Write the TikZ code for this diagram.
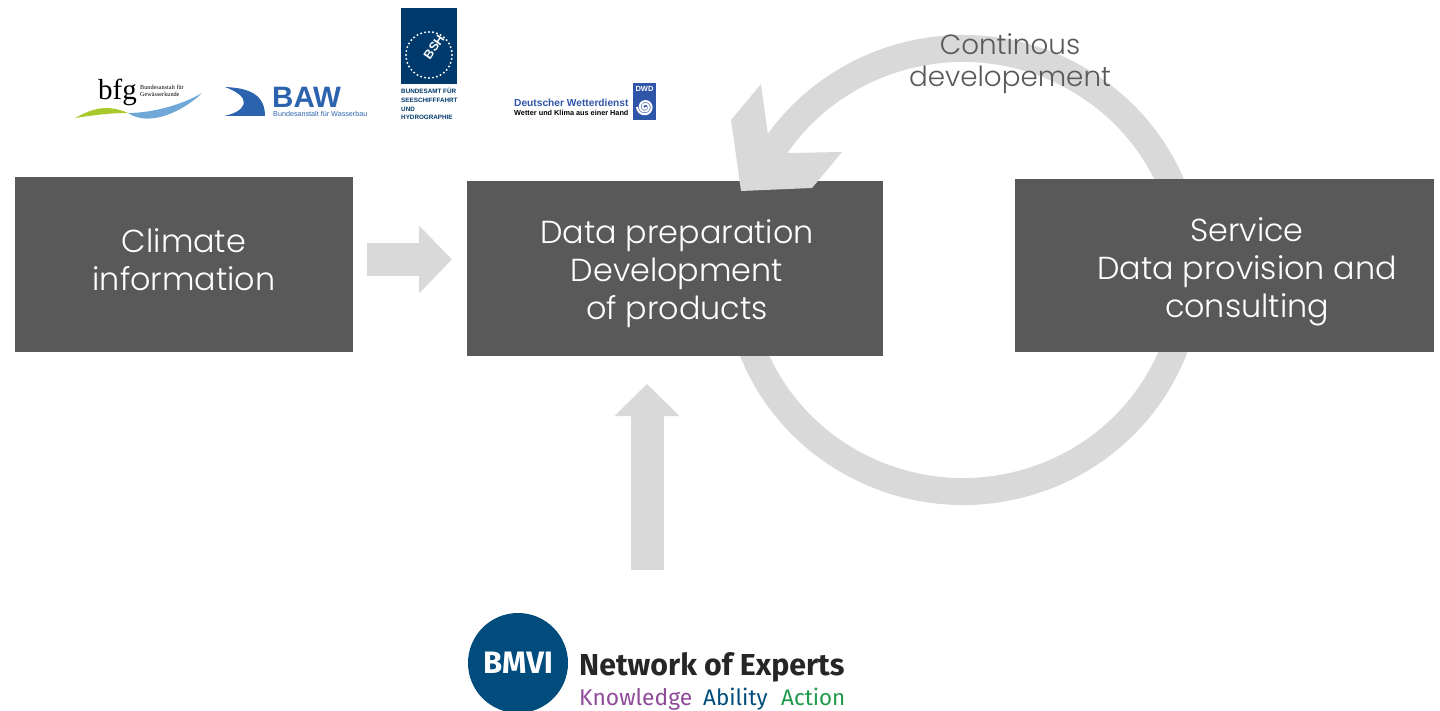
\documentclass[tikz,border=0pt]{standalone}
\usepackage{fontspec}
\setmainfont{Poppins Light}
\newfontfamily\logofont{Fira Sans}
\newfontfamily\liberfont{Liberation Sans}
\newfontfamily\seriffont{Liberation Serif}
\usetikzlibrary{arrows.meta}
\definecolor{boxgrey}{HTML}{595959}
\definecolor{arrowgrey}{HTML}{D9D9D9}
\definecolor{bshblue}{HTML}{003A6C}
\definecolor{bawblue}{HTML}{2B63AE}
\definecolor{dwdblue}{HTML}{2F55A8}
\definecolor{bmviblue}{HTML}{004C7C}
\definecolor{bfggreen}{HTML}{A9C92A}
\definecolor{bfgblue}{HTML}{6FA8D6}
\definecolor{knowpurple}{HTML}{8F4A9A}
\definecolor{actgreen}{HTML}{1F9A4A}
\tikzset{
    stagebox/.style={fill=boxgrey, inner sep=0pt},
    stagetext/.style={text=white, align=center, inner sep=0pt, font=\fontsize{31.8}{38.3}\selectfont},
    fatarrow/.style={draw=arrowgrey, line width=33pt, -{Triangle[length=33pt,width=66pt,fill=arrowgrey]}},
    logotext/.style={inner sep=0pt, anchor=base west, align=left}
}
\begin{document}
\begin{tikzpicture}[x=1pt,y=-1pt]
    \useasboundingbox (0,0) rectangle (1440,711);

    % Loop behind the boxes
    \coordinate (loopcentre) at (963,270);
    \draw[arrowgrey, line width=27pt] (loopcentre) ++(165:226 and 221.5) arc[start angle=165, end angle=-146, x radius=226, y radius=221.5];

    % Stages
    \node[stagebox, minimum width=338pt, minimum height=175pt] (climate) at (184,264.5) {};
    \node[stagebox, minimum width=416pt, minimum height=175pt] (prep) at (675,268.5) {};
    \node[stagebox, minimum width=419pt, minimum height=173pt] (service) at (1224.5,265.5) {};
    \node[stagetext] (climatetext) at ([yshift=5pt]climate.center) {Climate\\information};
    \node[stagetext] (preptext) at ([xshift=2pt,yshift=-5pt]prep.center) {Data preparation\\Development\\of products};
    \node[stagetext] (servicetext) at ([xshift=22.5pt,yshift=-6.5pt]service.center) {Service\\Data provision and\\consulting};

    % Head of the loop
    \fill[arrowgrey] (761,84) -- (731,120) -- (741,191) -- (812,188) -- (842,152) -- (788,153) -- (768,135) -- cycle;

    % Block arrows
    \coordinate (climateout) at (367,259.5);
    \coordinate (prepin) at (452,259.5);
    \draw[fatarrow] (climateout) -- (prepin);
    \coordinate (expertsout) at (647,570);
    \coordinate (prepbelow) at (647,384);
    \draw[fatarrow, -{Triangle[length=32pt,width=63pt,fill=arrowgrey]}] (expertsout) -- (prepbelow);

    \node[text=boxgrey, align=center, inner sep=0pt, font=\fontsize{27.8}{32}\selectfont] (loopname) at (1010,64) {Continous\\developement};

    % bfg
    \fill[bfggreen] (75,118) .. controls (90,110) and (105,103) .. (128,113) .. controls (110,113) and (95,115) .. (75,118) -- cycle;
    \fill[bfgblue] (128,113) .. controls (150,113) and (180,106) .. (202,93) .. controls (185,110) and (150,128) .. (128,113) -- cycle;
    \node[logotext, font=\seriffont\fontsize{29}{29}\selectfont] (bfgname) at (98,100) {bfg};
    \node[logotext, font=\seriffont\fontsize{6.2}{7}\selectfont] (bfgtext) at (140,97) {Bundesanstalt für\\Gewässerkunde};

    % BAW
    \fill[bawblue] (225,87) .. controls (250,88) and (265,95) .. (265,116) -- (224,116) .. controls (245,112) and (255,98) .. (225,87) -- cycle;
    \node[logotext, text=bawblue, font=\liberfont\bfseries\fontsize{29.5}{29.5}\selectfont] (bawname) at (272,108) {BAW};
    \node[logotext, text=bawblue, font=\liberfont\fontsize{7.2}{7.2}\selectfont] (bawtext) at (273,117) {Bundesanstalt für Wasserbau};

    % BSH
    \fill[bshblue] (401,8) rectangle (457,84);
    \foreach \a in {0,10,...,350}
        {
            \fill[white] (429,55) ++(\a:23) circle (1.1);
        }
    \node[text=white, rotate=55, inner sep=0pt, font=\liberfont\bfseries\fontsize{12.5}{12.5}\selectfont] (bshname) at (434,47) {BSH};
    \node[logotext, text=bshblue, font=\liberfont\bfseries\fontsize{6.3}{8.7}\selectfont] (bshtext) at (401,120) {BUNDESAMT FÜR\\SEESCHIFFFAHRT\\UND\\HYDROGRAPHIE};

    % DWD
    \fill[dwdblue] (633,83) rectangle (656,120);
    \node[text=white, inner sep=0pt, font=\liberfont\bfseries\fontsize{7.5}{8}\selectfont] (dwdname) at (644.5,89) {DWD};
    \draw[white, line width=2pt, domain=0:900, samples=60, smooth] plot ({645+(1+\x/130)*cos(\x)}, {107+(1+\x/130)*sin(\x)});
    \node[logotext, text=dwdblue, font=\liberfont\bfseries\fontsize{10.2}{10.2}\selectfont] (dwdtext) at (514,107) {Deutscher Wetterdienst};
    \node[logotext, font=\liberfont\bfseries\fontsize{7.3}{7.3}\selectfont] (dwdclaim) at (514,116) {Wetter und Klima aus einer Hand};

    % BMVI
    \node[circle, fill=bmviblue, text=white, minimum size=100pt, inner sep=0pt, font=\logofont\bfseries\fontsize{31}{31}\selectfont] (bmvi) at (518,663) {BMVI};
    \node[logotext, text=black!85, font=\logofont\bfseries\fontsize{30.3}{30.3}\selectfont] (network) at (579,675) {Network of Experts};
    \node[logotext, text=knowpurple, font=\logofont\fontsize{22.8}{22.8}\selectfont] (knowledge) at (579,705) {Knowledge};
    \node[logotext, text=bmviblue, font=\logofont\fontsize{22.4}{22.4}\selectfont] (ability) at (703,705) {Ability};
    \node[logotext, text=actgreen, font=\logofont\fontsize{22.4}{22.4}\selectfont] (action) at (781,705) {Action};
\end{tikzpicture}
\end{document}
